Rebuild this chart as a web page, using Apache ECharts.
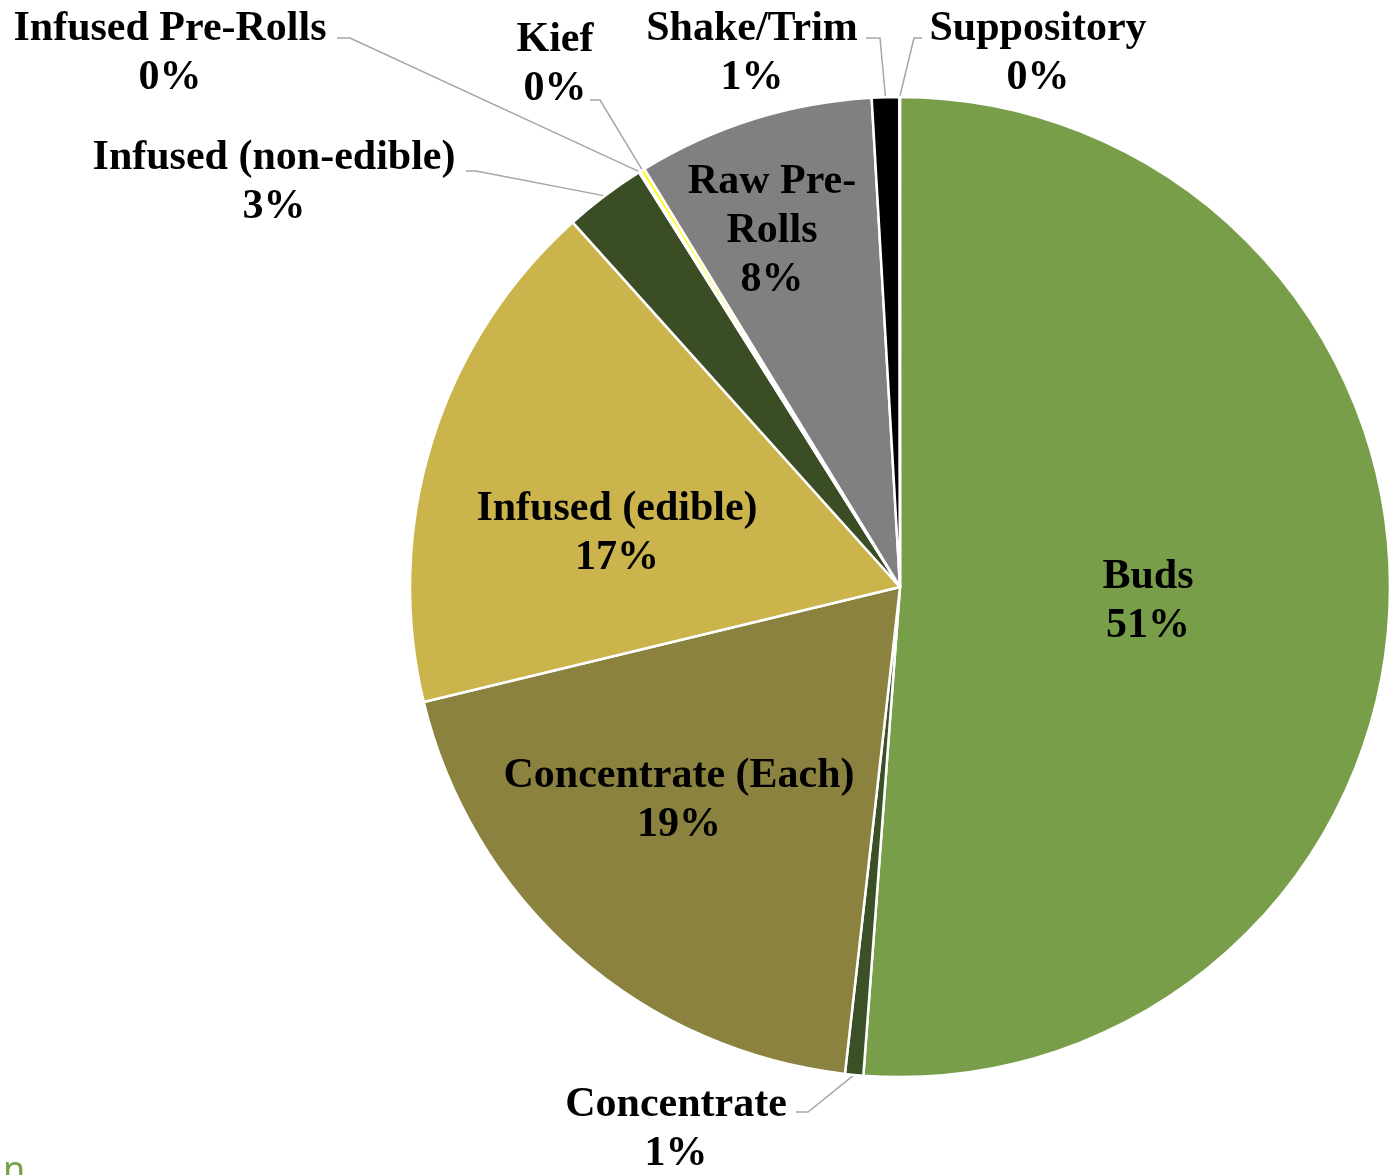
<!DOCTYPE html>
<html>
<head>
<meta charset="utf-8">
<title>Product category share</title>
<script src="https://cdn.jsdelivr.net/npm/echarts@6/dist/echarts.min.js"></script>
<style>
  html, body { margin: 0; padding: 0; background: #ffffff; }
  #chart { width: 1395px; height: 1175px; }
</style>
</head>
<body>
<div id="chart"></div>
<script>
// Product categories and their share of sales (percent)
const categories = [
  'Buds', 'Concentrate', 'Concentrate (Each)', 'Infused (edible)',
  'Infused (non-edible)', 'Infused Pre-Rolls', 'Kief', 'Raw Pre-Rolls',
  'Shake/Trim', 'Suppository'
];
const shares = [51.1, 0.6, 19.4, 17.1, 2.7, 0.05, 0.15, 7.8, 0.9, 0.02];
const sliceColors = [
  '#799E4A', '#3B5026', '#8A823E', '#CBB44B',
  '#3A4D25', '#E6D27A', '#FFFF00', '#808080',
  '#000000', '#70AD47'
];

// Pie geometry
const CX = 900, CY = 587, R = 490;

// Where each label sits; outside labels also get an elbow and an end for their leader line
const labelSpots = {
  'Buds':                 { x: 1148, y: 602 },
  'Concentrate':          { x: 676,  y: 1130, line: [[796, 1112], [808, 1112]] },
  'Concentrate (Each)':   { x: 679,  y: 801 },
  'Infused (edible)':     { x: 617,  y: 534 },
  'Infused (non-edible)': { x: 274,  y: 183, line: [[466, 171], [476, 171]] },
  'Infused Pre-Rolls':    { x: 170,  y: 54,  line: [[337, 38], [350, 38]] },
  'Kief':                 { x: 555,  y: 65,  line: [[590, 100], [600, 100]] },
  'Raw Pre-Rolls':        { x: 772,  y: 231 },
  'Shake/Trim':           { x: 752,  y: 54,  line: [[866, 38], [880, 38]] },
  'Suppository':          { x: 1038, y: 54,  line: [[922, 38], [914, 38]] }
};
const displayNames = { 'Raw Pre-Rolls': 'Raw Pre-\nRolls' };

const total = shares.reduce((a, b) => a + b, 0);
// Mid-angle point on the rim for each slice (clockwise from 12 o'clock)
const rimPoints = [];
(function () {
  let cum = 0;
  shares.forEach(v => {
    const a = (cum + v / 2) / total * Math.PI * 2;
    rimPoints.push([CX + R * Math.sin(a), CY - R * Math.cos(a)]);
    cum += v;
  });
})();

const pieData = categories.map((name, i) => {
  const spot = labelSpots[name];
  const inside = !spot.line;
  return {
    name: name,
    value: shares[i],
    itemStyle: { color: sliceColors[i] },
    label: { position: inside ? 'inside' : 'outside' },
    labelLine: { show: !inside }
  };
});

const chart = echarts.init(document.getElementById('chart'), null, { renderer: 'canvas' });

chart.setOption({
  backgroundColor: '#ffffff',
  animation: false,
  graphic: [{
    type: 'text',
    left: 3,
    top: 1154,
    style: { text: 'n', fill: '#77A04B', font: '36px "Noto Sans"' }
  }],
  series: [{
    type: 'pie',
    center: [CX, CY],
    radius: [0, R],
    startAngle: 90,
    clockwise: true,
    avoidLabelOverlap: false,
    minAngle: 0,
    itemStyle: { borderColor: '#ffffff', borderWidth: 2.5 },
    label: {
      show: true,
      color: '#000000',
      fontFamily: '"Liberation Serif", "Times New Roman", serif',
      fontWeight: 'bold',
      fontSize: 42,
      lineHeight: 49,
      align: 'center',
      formatter: p => (displayNames[p.name] || p.name) + '\n' + Math.round(p.percent) + '%'
    },
    labelLine: {
      show: true,
      length: 10,
      length2: 10,
      lineStyle: { color: '#A6A6A6', width: 1.5 }
    },
    labelLayout: function (params) {
      const name = categories[params.dataIndex];
      const spot = labelSpots[name];
      const out = { x: spot.x, y: spot.y, align: 'center', verticalAlign: 'middle' };
      if (spot.line) {
        out.labelLinePoints = [rimPoints[params.dataIndex], spot.line[1], spot.line[0]];
      }
      return out;
    },
    data: pieData
  }]
});
</script>
</body>
</html>
